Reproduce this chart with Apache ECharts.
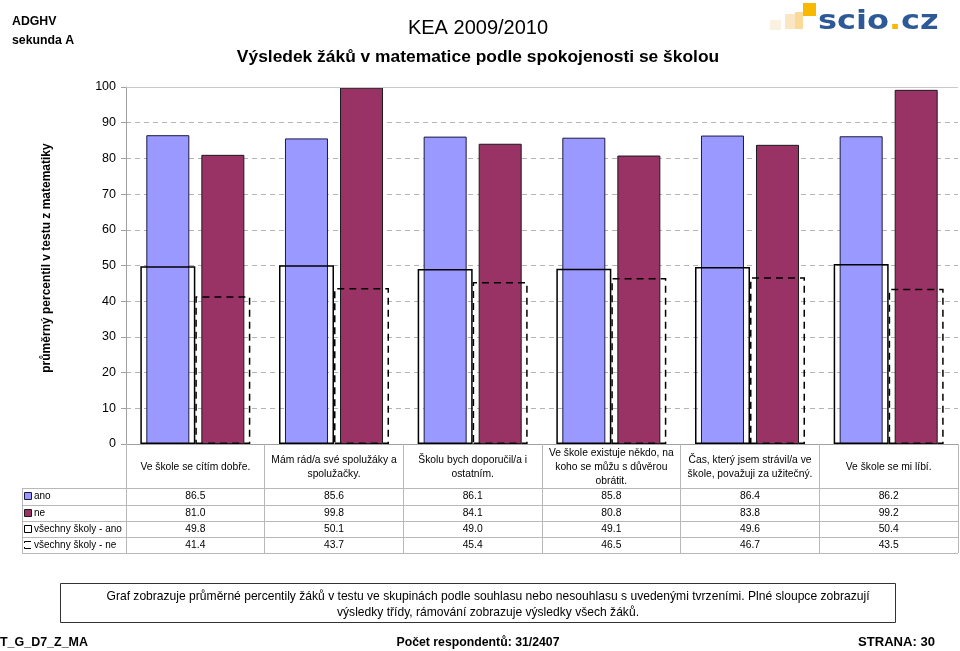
<!DOCTYPE html>
<html><head><meta charset="utf-8">
<script src="https://cdn.jsdelivr.net/npm/echarts@6/dist/echarts.min.js"></script>
<style>html,body{margin:0;padding:0;background:#fff}#c{width:960px;height:651px}</style>
</head><body><div id="c"></div>
<script>
var categories = ["Ve škole se cítím dobře.", "Mám rád/a své spolužáky a\nspolužačky.", "Školu bych doporučil/a i\nostatním.", "Ve škole existuje někdo, na\nkoho se můžu s důvěrou\nobrátit.", "Čas, který jsem strávil/a ve\nškole, považuji za užitečný.", "Ve škole se mi líbí."];
var seriesNames = ["ano", "ne", "všechny školy - ano", "všechny školy - ne"];
var ano = [86.5, 85.6, 86.1, 85.8, 86.4, 86.2];
var ne = [81.0, 99.8, 84.1, 80.8, 83.8, 99.2];
var vsAno = [49.8, 50.1, 49.0, 49.1, 49.6, 50.4];
var vsNe = [41.4, 43.7, 45.4, 46.5, 46.7, 43.5];
var yTicks = [0, 10, 20, 30, 40, 50, 60, 70, 80, 90, 100];

var FONT = "Liberation Sans, Arial, sans-serif";
var chart = echarts.init(document.getElementById('c'), null, {renderer: 'canvas'});

var option = {
  animation: false,
  backgroundColor: '#fff',
  textStyle: {fontFamily: FONT},
  grid: {left: 126, right: 2, top: 87, bottom: 207, containLabel: false},
  xAxis: [{
    type: 'category', data: categories,
    axisLine: {show: true, lineStyle: {color: '#a0a0a0', width: 1}},
    axisTick: {show: true, length: 109, lineStyle: {color: '#b8b8b8', width: 1}},
    axisLabel: {interval: 0, fontSize: 10.3, lineHeight: 14,
      color: '#000', verticalAlign: 'middle', margin: 23, fontFamily: FONT},
    splitLine: {show: false}
  }, {
    type: 'category', data: categories, show: false
  }],
  yAxis: {
    type: 'value', min: yTicks[0], max: yTicks[yTicks.length - 1], interval: 10,
    axisLine: {show: true, lineStyle: {color: '#a0a0a0'}},
    axisTick: {show: true, length: 5, lineStyle: {color: '#a0a0a0'}},
    axisLabel: {fontSize: 12.5, color: '#000', margin: 10, fontFamily: FONT},
    splitLine: {show: true, lineStyle: {color: '#b4b4b4', type: [5, 4], width: 1}}
  },
  series: [{
    name: seriesNames[0], type: 'bar', xAxisIndex: 0, data: ano, barWidth: 43, barGap: '28%',
    itemStyle: {color: '#9999FF', borderColor: '#1a1a40', borderWidth: 1}, z: 2,
    markLine: {silent: true, symbol: 'none', label: {show: false},
      lineStyle: {color: '#c8c8c8', type: 'solid', width: 1}, data: [{yAxis: 100}]}
  }, {
    name: seriesNames[1], type: 'bar', xAxisIndex: 0, data: ne, barWidth: 43,
    itemStyle: {color: '#993366', borderColor: '#1a1a1a', borderWidth: 1}, z: 2
  }, {
    name: seriesNames[2], type: 'bar', xAxisIndex: 1, data: vsAno, barWidth: 55, barGap: 0,
    itemStyle: {color: 'rgba(0,0,0,0)', borderColor: '#000', borderWidth: 1.5}, z: 3
  }, {
    name: seriesNames[3], type: 'bar', xAxisIndex: 1, data: vsNe, barWidth: 55,
    itemStyle: {color: 'rgba(0,0,0,0)', borderColor: '#000', borderWidth: 1.5, borderType: [7, 5]}, z: 3
  }]
};
chart.setOption(option);

var mctx = document.createElement('canvas').getContext('2d');
function fitScale(text, font, target) {
  mctx.font = font;
  var w = mctx.measureText(text).width;
  return w > 0 ? target / w : 1;
}

// Build data table and decorations
var rows = [ano, ne, vsAno, vsNe];
var rowY = [496.5, 513, 529, 545];
var hLines = [488, 505, 521, 537, 553];
var g = [];
hLines.forEach(function (y) {
  g.push({type: 'line', shape: {x1: 22, y1: y + 0.5, x2: 958, y2: y + 0.5}, style: {stroke: '#b8b8b8', lineWidth: 1}, silent: true});
});
g.push({type: 'line', shape: {x1: 22.5, y1: 488, x2: 22.5, y2: 553}, style: {stroke: '#b8b8b8', lineWidth: 1}});
rows.forEach(function (arr, r) {
  arr.forEach(function (v, i) {
    var x = chart.convertToPixel({xAxisIndex: 0}, categories[i]);
    g.push({type: 'text', x: x, y: rowY[r], style: {text: v.toFixed(1), fill: '#000',
      align: 'center', verticalAlign: 'middle', font: '10.3px ' + FONT}});
  });
  g.push({type: 'text', x: 34, y: rowY[r], style: {text: seriesNames[r], fill: '#000',
    align: 'left', verticalAlign: 'middle', font: '10px ' + FONT}});
});
// legend keys
g.push({type: 'rect', shape: {x: 24.5, y: 492.5, width: 7, height: 7}, style: {fill: '#9999FF', stroke: '#1a1a40', lineWidth: 1}});
g.push({type: 'rect', shape: {x: 24.5, y: 509.5, width: 7, height: 7}, style: {fill: '#993366', stroke: '#1a1a1a', lineWidth: 1}});
g.push({type: 'rect', shape: {x: 24.5, y: 525.5, width: 7, height: 7}, style: {fill: '#fff', stroke: '#000', lineWidth: 1}});
g.push({type: 'polyline', shape: {points: [[31, 541.5], [24.5, 541.5], [24.5, 543]]}, style: {fill: null, stroke: '#000', lineWidth: 1}});
g.push({type: 'polyline', shape: {points: [[24.5, 547], [24.5, 548.5], [31, 548.5]]}, style: {fill: null, stroke: '#000', lineWidth: 1}});

// y axis title
g.push({type: 'text', x: 47, y: 258, rotation: Math.PI / 2, style: {text: 'průměrný percentil v testu z matematiky',
  font: 'bold 12px ' + FONT, fill: '#000', align: 'center', verticalAlign: 'middle'}});

// header
g.push({type: 'text', x: 12, y: 22, style: {text: 'ADGHV', font: 'bold 12.3px ' + FONT, fill: '#000', verticalAlign: 'middle'}});
g.push({type: 'text', x: 12, y: 41, style: {text: 'sekunda A', font: 'bold 12.3px ' + FONT, fill: '#000', verticalAlign: 'middle'}});
g.push({type: 'text', x: 478, y: 28, style: {text: 'KEA 2009/2010', font: '20px ' + FONT, fill: '#000', align: 'center', verticalAlign: 'middle'}});
g.push({type: 'text', x: 478, y: 57, style: {text: 'Výsledek žáků v matematice podle spokojenosti se školou', font: 'bold 17.4px ' + FONT, fill: '#000', align: 'center', verticalAlign: 'middle'}});
// logo
g.push({type: 'rect', shape: {x: 770, y: 20, width: 11, height: 10}, style: {fill: '#fbf1e0'}});
g.push({type: 'rect', shape: {x: 785, y: 14, width: 11, height: 15}, style: {fill: '#fbe6c4'}});
g.push({type: 'rect', shape: {x: 795, y: 12, width: 8, height: 17}, style: {fill: '#fbd998'}});
g.push({type: 'rect', shape: {x: 803, y: 3, width: 13, height: 13}, style: {fill: '#f6b800'}});
g.push({type: 'text', x: 818, y: 22, scaleX: 1.23,
  style: {rich: {a: {fontSize: 26, fontWeight: 'bold', fill: '#2d5a96', fontFamily: 'DejaVu Sans'}, b: {fontSize: 26, fontWeight: 'bold', fill: '#f6b800', fontFamily: 'DejaVu Sans'}},
  text: '{a|scio}{b|.}{a|cz}', verticalAlign: 'middle'}});

// footer note box
var note1 = 'Graf zobrazuje průměrné percentily žáků v testu ve skupinách podle souhlasu nebo nesouhlasu s uvedenými tvrzeními. Plné sloupce zobrazují';
var note2 = 'výsledky třídy, rámování zobrazuje výsledky všech žáků.';
var nFont = '13.5px ' + FONT;
var sx = fitScale(note1, nFont, 763);
g.push({type: 'rect', shape: {x: 60.5, y: 583.5, width: 835, height: 39}, style: {fill: '#fff', stroke: '#333', lineWidth: 1}});
g.push({type: 'text', x: 488, y: 596, scaleX: sx, style: {text: note1, font: nFont, fill: '#000', align: 'center', verticalAlign: 'middle'}});
g.push({type: 'text', x: 488, y: 612, scaleX: sx, style: {text: note2, font: nFont, fill: '#000', align: 'center', verticalAlign: 'middle'}});
// bottom line
var bFont = 'bold 13.5px ' + FONT;
var s1 = fitScale('T_G_D7_Z_MA', bFont, 88);
var s2 = fitScale('Počet respondentů: 31/2407', bFont, 163);
var s3 = fitScale('STRANA: 30', bFont, 77);
g.push({type: 'text', x: 0, y: 642, scaleX: s1, style: {text: 'T_G_D7_Z_MA', font: bFont, fill: '#000', verticalAlign: 'middle'}});
g.push({type: 'text', x: 478, y: 642, scaleX: s2, style: {text: 'Počet respondentů: 31/2407', font: bFont, fill: '#000', align: 'center', verticalAlign: 'middle'}});
g.push({type: 'text', x: 935, y: 642, scaleX: s3, style: {text: 'STRANA: 30', font: bFont, fill: '#000', align: 'right', verticalAlign: 'middle'}});

chart.setOption({graphic: {elements: g}});
</script>
</body></html>
